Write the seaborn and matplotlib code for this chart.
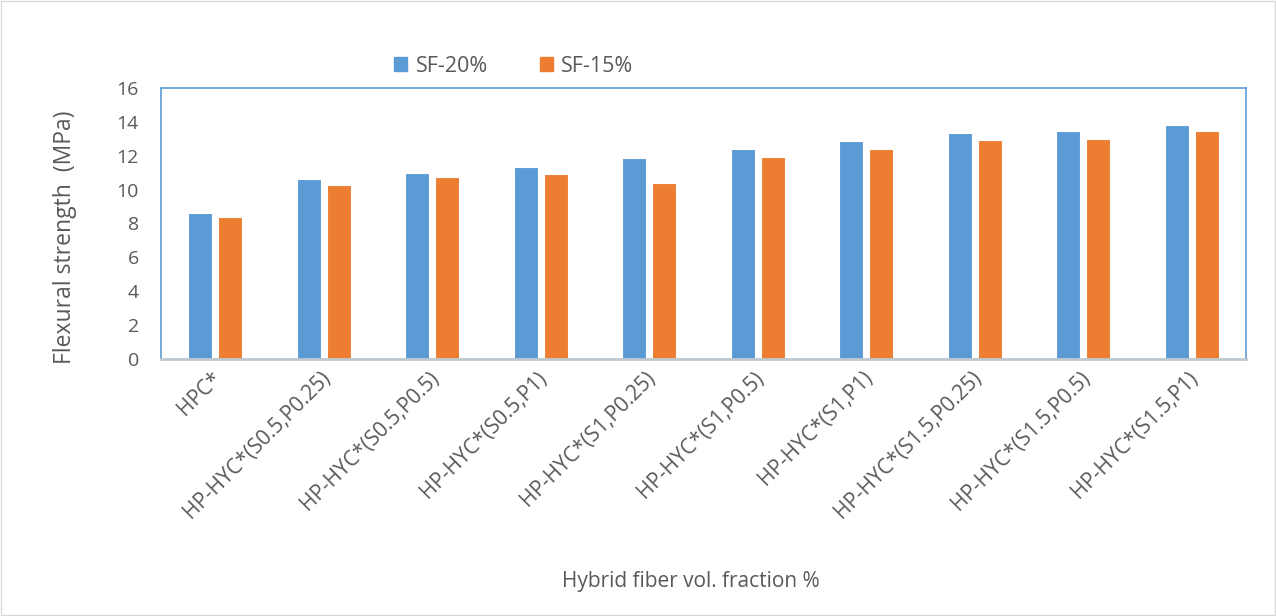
import pandas as pd
import numpy as np
import seaborn as sns
import matplotlib.pyplot as plt
from matplotlib.transforms import ScaledTranslation

sns.set_style("white")
plt.rcParams["font.family"] = ["Open Sans", "DejaVu Sans"]

# data
mixes = [
    "HPC*",
    "HP-HYC*(S0.5,P0.25)",
    "HP-HYC*(S0.5,P0.5)",
    "HP-HYC*(S0.5,P1)",
    "HP-HYC*(S1,P0.25)",
    "HP-HYC*(S1,P0.5)",
    "HP-HYC*(S1,P1)",
    "HP-HYC*(S1.5,P0.25)",
    "HP-HYC*(S1.5,P0.5)",
    "HP-HYC*(S1.5,P1)",
]
sf20 = [8.60, 10.64, 10.98, 11.32, 11.85, 12.40, 12.85, 13.32, 13.46, 13.80]
sf15 = [8.36, 10.29, 10.73, 10.90, 10.37, 11.92, 12.40, 12.95, 12.99, 13.44]
series = ["SF-20%", "SF-15%"]
colors = ["#5B9BD5", "#ED7D31"]
text_color = "#595959"


def main():
    df = pd.DataFrame({"mix": mixes, series[0]: sf20, series[1]: sf15})
    long_df = df.melt(id_vars="mix", var_name="series", value_name="strength")

    fig = plt.figure(figsize=(12.76, 6.16), dpi=100)
    # outer chart border
    fig.patches.append(
        plt.Rectangle((0.001, 0.001), 0.998, 0.998, transform=fig.transFigure,
                      fill=False, edgecolor="#D9D9D9", linewidth=1)
    )
    ax = fig.add_axes([161 / 1276, 1 - 359 / 616, (1246 - 161) / 1276, (359 - 88) / 616])

    sns.barplot(
        data=long_df, x="mix", y="strength", hue="series",
        palette=colors, saturation=1, width=0.55, gap=0.2, ax=ax,
        edgecolor="white", linewidth=0.8, legend=False,
    )

    ax.set_ylim(0, 16)
    ax.set_yticks(np.arange(0, 17, 2))
    ax.set_xlim(-0.5, len(mixes) - 0.5)

    for side in ["left", "top", "right"]:
        ax.spines[side].set_color("#5B9BD5")
        ax.spines[side].set_linewidth(1.2)
    ax.spines["bottom"].set_color("#BFC7D0")
    ax.spines["bottom"].set_linewidth(2)

    ax.tick_params(axis="y", length=0, labelsize=14, labelcolor=text_color, pad=16)
    ax.tick_params(axis="x", length=0, labelsize=15, labelcolor=text_color, pad=6)
    ax.set_xticks(range(len(mixes)))
    ax.set_xticklabels(mixes, rotation=45, ha="right", rotation_mode="anchor")
    shift = ScaledTranslation(-4 / 100, 0, fig.dpi_scale_trans)
    for lbl in ax.get_xticklabels():
        lbl.set_transform(lbl.get_transform() + shift)

    ax.set_ylabel("")
    ax.set_xlabel("")
    fig.text(65 / 1276, 1 - 237 / 616, "Flexural strength  (MPa)", rotation=90,
             ha="center", va="center", fontsize=16.5, color=text_color)
    fig.text(691 / 1276, 1 - 581 / 616, "Hybrid fiber vol. fraction %", ha="center",
             va="center", fontsize=15, color=text_color)

    # legend above the plot
    handles = [plt.Rectangle((0, 0), 1, 1, color=c) for c in colors]
    fig.legend(handles, series, loc="center", bbox_to_anchor=(514 / 1276, 1 - 66 / 616),
               ncol=2, frameon=False, fontsize=15.5, handlelength=0.6, handleheight=0.6,
               columnspacing=2.4, handletextpad=0.4, labelcolor=text_color)

    fig.savefig("out.png", dpi=100)


if __name__ == "__main__":
    main()
